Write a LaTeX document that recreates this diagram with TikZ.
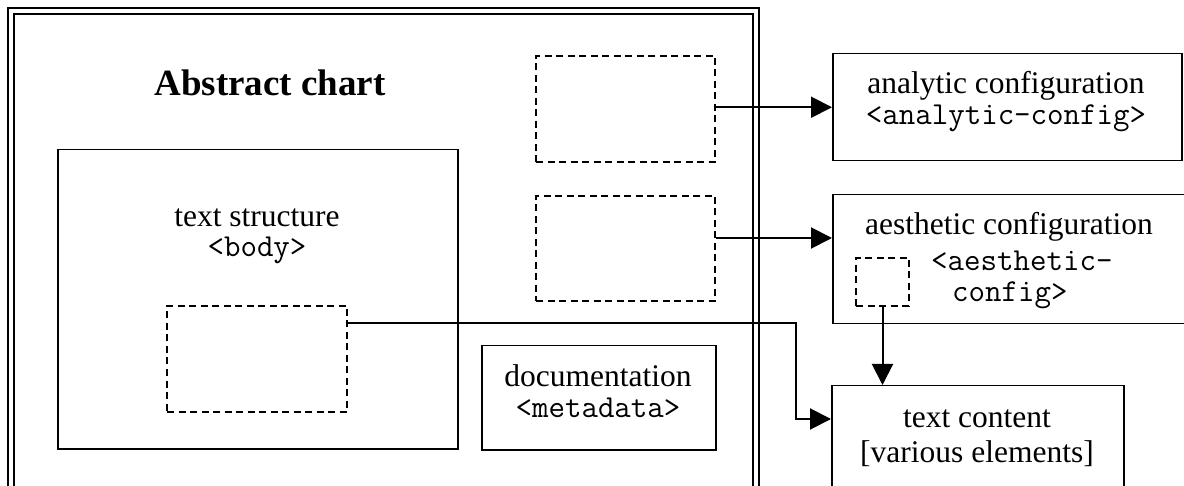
\documentclass[tikz,border=0pt]{standalone}
\usepackage{fontspec}
\setmainfont{Liberation Serif}
\usetikzlibrary{arrows.meta}
\newcommand{\codefont}{\ttfamily\fontsize{32}{36}\selectfont}
\newcommand{\twolines}[3]{\vbox{\baselineskip=#1pt\lineskiplimit=-100pt
  \hbox to 0pt{\hss\rule{0pt}{22pt}#2\hss}\hbox to 0pt{\hss#3\hss}}}
\tikzset{
  box/.style={draw, line width=1.5pt, inner sep=0pt, anchor=north west},
  dbox/.style={draw, line width=2pt, dash pattern=on 7pt off 4.5pt, inner sep=0pt, anchor=north west},
  frameline/.style={draw, line width=2pt},
  txt/.style={inner sep=0pt, anchor=north, font=\fontsize{31.5}{36}\selectfont},
  conn/.style={line width=2pt, -{Triangle[length=21pt,width=21pt]}},
}
\begin{document}
\begin{tikzpicture}[x=1pt,y=-1pt]
\useasboundingbox (0,0) rectangle (1184,486);
\clip (0,0) rectangle (1184,486);
% outer double frame
\draw[frameline] (8,8) rectangle (759,530);
\draw[frameline] (14,14) rectangle (753,530);
% title
\node[inner sep=0pt, font=\fontsize{37}{44}\selectfont\bfseries] (title) at (270,83) {Abstract chart};
% body box
\node[box, minimum width=400pt, minimum height=299pt] (body) at (57,149) {};
\node[txt] (bodyT) at (257,204) {\twolines{30}{text structure}{\codefont <body>}};
\node[dbox, minimum width=180pt, minimum height=106pt] (dC) at (166,305) {};
% documentation
\node[box, minimum width=234pt, minimum height=104pt] (doc) at (481,345) {};
\node[txt] (docT) at (598,364) {\twolines{31}{documentation}{\codefont <metadata>}};
% dashed placeholders
\node[dbox, minimum width=179pt, minimum height=106pt] (dA) at (535,55) {};
\node[dbox, minimum width=179pt, minimum height=105pt] (dB) at (535,195) {};
% analytic configuration
\node[box, minimum width=349pt, minimum height=107pt] (anal) at (832,53) {};
\node[txt] (analT) at (1006,71.3) {\twolines{31}{analytic configuration}{\codefont <analytic-config>}};
% aesthetic configuration
\node[box, minimum width=380pt, minimum height=129pt] (aes) at (832,194) {};
\node[inner sep=0pt, font=\fontsize{31.5}{36}\selectfont] (aesA) at (1009,227) {aesthetic configuration};
\node[inner sep=0pt, anchor=north west, font=\codefont] (aesB) at (931,248)
  {\vbox{\baselineskip=31pt\lineskiplimit=-100pt
   \hbox{\rule{0pt}{22pt}<aesthetic-}\hbox{\hspace*{21pt}config>}}};
\node[dbox, minimum width=53pt, minimum height=48pt] (sm) at (855,257) {};
% text content
\node[box, minimum width=292pt, minimum height=150pt] (tc) at (831,385) {};
\node[txt] (tcT) at (977,405) {\twolines{35}{text content}{[various elements]}};
% connectors
\draw[conn] (anal.west -| dA.east) -- (anal.west);
\draw[conn] ([yshift=10.5pt]dB.east) -- ([yshift=10.5pt]dB.east -| aes.west);
\coordinate (bend) at (796,419);
\draw[conn] ([yshift=-18pt]dC.north east) -| (bend) -- ([yshift=-34pt]tc.north west);
\draw[conn] (sm.south) -- (sm.south |- tc.north);
\end{tikzpicture}
\end{document}
